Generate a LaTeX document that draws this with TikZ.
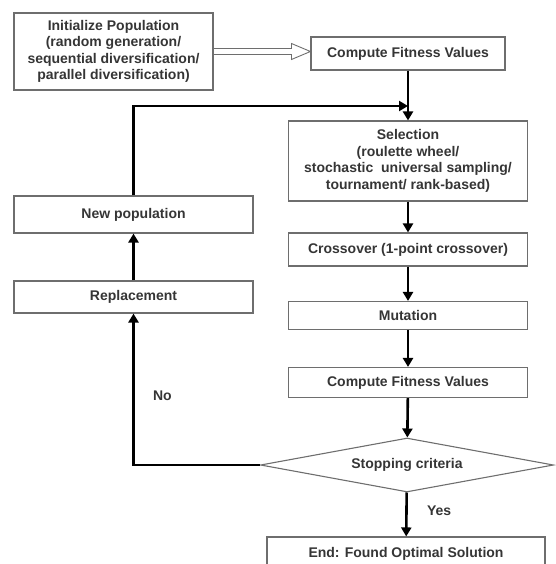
\documentclass[tikz,border=0pt]{standalone}
\usepackage{fontspec}
\setmainfont{Liberation Sans}
\usetikzlibrary{shapes.geometric,arrows.meta,calc}
\definecolor{boxgray}{HTML}{6E6E6E}
\definecolor{inkgray}{HTML}{353535}

\begin{document}
\begin{tikzpicture}[x=1pt, y=-1pt]
	\tikzstyle{stage}=[rectangle, draw=boxgray, line width=1.1pt, inner sep=1pt, align=center, text=inkgray, font=\bfseries\fontsize{14}{16.5}\selectfont];
	\tikzstyle{test}=[diamond, draw=boxgray, line width=1.1pt, aspect=5.4, inner sep=1pt, text=inkgray, font=\bfseries\fontsize{14}{16.5}\selectfont];
	\tikzstyle{flow}=[line width=2.6pt, -{Triangle[length=9pt, width=10pt]}];
	\tikzstyle{tag}=[text=inkgray, font=\bfseries\fontsize{14}{16}\selectfont];

	\useasboundingbox (0,0) rectangle (555,564);

	\node[stage, minimum width=199, minimum height=77] (init) at (113.5, 51.5) {Initialize Population\\(random generation/\\sequential diversification/\\parallel diversification)};
	\node[stage, minimum width=194, minimum height=33] (fit1) at (408, 53.5) {Compute Fitness Values};
	\node[stage, minimum width=239, minimum height=80] (sel) at (408, 161) {Selection\\(roulette wheel/\\stochastic\ \ universal sampling/\\tournament/ rank-based)};
	\node[stage, minimum width=239, minimum height=33] (cross) at (408, 249.5) {Crossover (1-point crossover)};
	\node[stage, minimum width=239, minimum height=28] (mut) at (408, 315.5) {Mutation};
	\node[stage, minimum width=239, minimum height=30] (fit2) at (408, 382.5) {Compute Fitness Values};
	\node[test, minimum width=293, minimum height=54] (stop) at (407, 465) {Stopping criteria};
	\node[stage, minimum width=278, minimum height=34] (end) at (406, 554) {End: Found Optimal Solution};
	\node[stage, minimum width=239, minimum height=37] (newp) at (133.5, 214.5) {New population};
	\node[stage, minimum width=239, minimum height=32] (repl) at (133.5, 297) {Replacement};
	\coordinate (join) at (408, 106);

	% hollow arrow into the first evaluation
	\draw[boxgray, line width=0.9pt] let \p1=(init.east), \p2=(fit1.west) in
		(\x1,\y1+3pt) -- (\x2-19pt,\y1+3pt) -- (\x2-19pt,\y1+8pt) -- (\x2,\y1)
		-- (\x2-19pt,\y1-8pt) -- (\x2-19pt,\y1-3pt) -- (\x1,\y1-3pt);

	\draw[flow] (fit1) -- (sel);
	\draw[flow] (sel) -- (cross);
	\draw[flow] (cross) -- (mut);
	\draw[flow] (mut) -- (fit2);
	\draw[flow] (fit2) -- (stop);
	\draw[flow] (stop) -- node[tag, pos=0.41, right=16pt] {Yes} (end);
	\draw[flow] (stop.west) -| node[tag, pos=0.73, right=15pt] {No} (repl.south);
	\draw[flow] (repl) -- (newp);
	\draw[flow] (newp.north) |- (join);
\end{tikzpicture}
\end{document}
